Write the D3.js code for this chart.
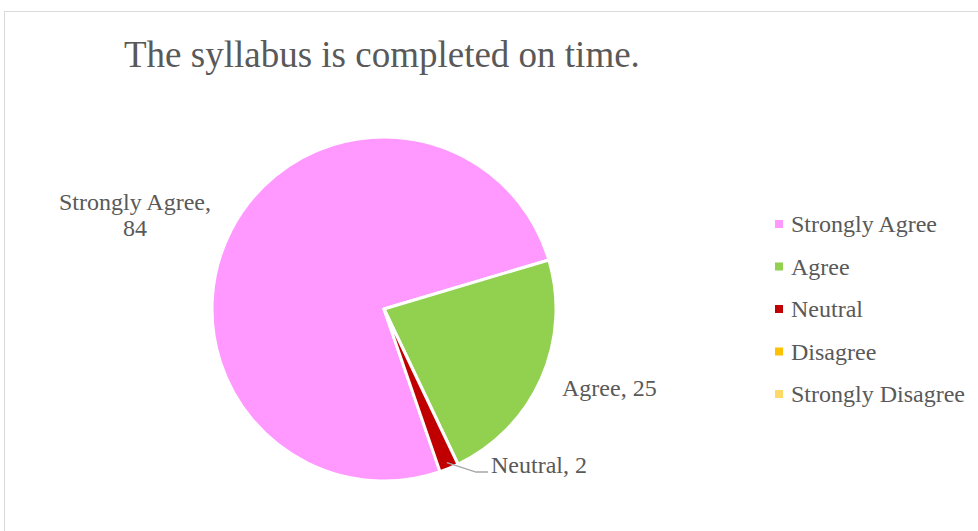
<!DOCTYPE html>
<html>
<head>
<meta charset="utf-8">
<script src="https://cdn.jsdelivr.net/npm/d3@7"></script>
<style>
  body { margin: 0; background: #fff; }
  text { font-family: "Liberation Serif", "Times New Roman", serif; fill: #595959; }
</style>
</head>
<body>
<div id="chart"></div>
<script>
// chart data
const categories = ["Strongly Agree", "Agree", "Neutral", "Disagree", "Strongly Disagree"];
const values = [84, 25, 2, 0, 0];
const colors = ["#FF99FF", "#92D050", "#C00000", "#FFC000", "#FFD966"];
const title = "The syllabus is completed on time.";

const width = 978, height = 531;

const svg = d3.select("#chart").append("svg")
    .attr("width", width)
    .attr("height", height);

// chart frame
svg.append("rect")
    .attr("x", 4.5).attr("y", 11.5)
    .attr("width", width).attr("height", height)
    .attr("fill", "none")
    .attr("stroke", "#d9d9d9");

svg.append("text")
    .attr("x", 124).attr("y", 67)
    .style("font-size", "37px")
    .text(title);

const cx = 384, cy = 309, r = 172;
// first slice angle ~161 deg
const start = 161 * Math.PI / 180;

const pie = d3.pie().sort(null).startAngle(start).endAngle(start + 2 * Math.PI);
const arcs = pie(values);
const arc = d3.arc().innerRadius(0).outerRadius(r);

const g = svg.append("g").attr("transform", `translate(${cx},${cy})`);

g.selectAll("path")
    .data(arcs.filter(d => d.value > 0))
    .join("path")
    .attr("d", arc)
    .attr("fill", (d, i) => colors[d.index])
    .attr("stroke", "#fff")
    .attr("stroke-width", 3)
    .attr("stroke-linejoin", "round");

// data labels
const labelFont = "24px";
svg.append("text")
    .attr("x", 135).attr("y", 210)
    .attr("text-anchor", "middle")
    .style("font-size", labelFont)
    .selectAll("tspan")
    .data([categories[0] + ",", String(values[0])])
    .join("tspan")
    .attr("x", 135)
    .attr("dy", (d, i) => i ? 26 : 0)
    .text(d => d);

svg.append("text")
    .attr("x", 562).attr("y", 396)
    .style("font-size", labelFont)
    .text(categories[1] + ", " + values[1]);

// leader line for the small slice
const mid = (arcs[2].startAngle + arcs[2].endAngle) / 2;
const p0 = [cx + Math.sin(mid) * (r - 6), cy - Math.cos(mid) * (r - 6)];
svg.append("polyline")
    .attr("points", [p0, [476, 472], [488, 472]].map(p => p.join(",")).join(" "))
    .attr("fill", "none")
    .attr("stroke", "#a6a6a6")
    .attr("stroke-width", 1.3);

svg.append("text")
    .attr("x", 491).attr("y", 473)
    .style("font-size", labelFont)
    .text(categories[2] + ", " + values[2]);

// legend
const legend = svg.append("g").attr("transform", "translate(775,224)");
const row = legend.selectAll("g")
    .data(categories)
    .join("g")
    .attr("transform", (d, i) => `translate(0,${i * 42.5})`);

row.append("rect")
    .attr("x", 0).attr("y", -4)
    .attr("width", 8).attr("height", 8)
    .attr("fill", (d, i) => colors[i]);

row.append("text")
    .attr("x", 16).attr("y", 8)
    .style("font-size", labelFont)
    .text(d => d);
</script>
</body>
</html>
